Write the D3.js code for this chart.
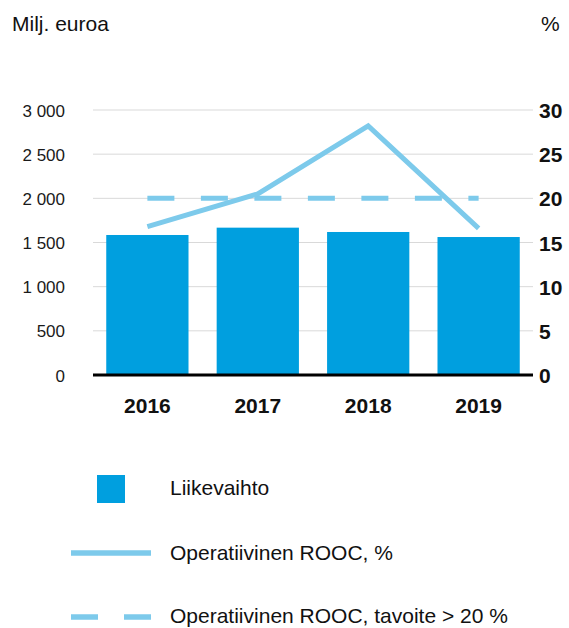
<!DOCTYPE html>
<html>
<head>
<meta charset="utf-8">
<script src="https://cdn.jsdelivr.net/npm/d3@7"></script>
<style>
  html, body { margin: 0; padding: 0; background: #fff; }
  svg { display: block; font-family: "Liberation Sans", Arial, sans-serif; }
</style>
</head>
<body>
<svg id="chart" width="569" height="628"></svg>
<script>
const years = ["2016", "2017", "2018", "2019"];
const revenue = [1585, 1668, 1619, 1562];
const rooc = [16.8, 20.5, 28.2, 16.6];
const target = [20, 20, 20, 20];
const leftTicks = [0, 500, 1000, 1500, 2000, 2500, 3000];
const rightTicks = [0, 5, 10, 15, 20, 25, 30];
const legendLabels = ["Liikevaihto", "Operatiivinen ROOC, %", "Operatiivinen ROOC, tavoite > 20 %"];

const barColor = "#009fdf";
const lineColor = "#7dcaeb";

const svg = d3.select("#chart");
const plotL = 93, plotR = 533, plotT = 110, plotB = 375;

const x = d3.scaleBand().domain(years).range([plotL, plotR]).paddingInner(0.255).paddingOuter(0.12);
const yL = d3.scaleLinear().domain([0, 3000]).range([plotB, plotT]);
const yR = d3.scaleLinear().domain([0, 30]).range([plotB, plotT]);

const loc = d3.formatLocale({decimal: ",", thousands: "\u00a0", grouping: [3], currency: ["", "€"]});
const fmt = loc.format(",d");

// gridlines
svg.append("g").selectAll("line").data(leftTicks.filter(d => d > 0)).join("line")
  .attr("x1", plotL).attr("x2", plotR)
  .attr("y1", d => yL(d)).attr("y2", d => yL(d))
  .attr("stroke", "#d9d9d9").attr("stroke-width", 1);

// left axis
const leftAxis = d3.axisLeft(yL).tickValues(leftTicks).tickFormat(fmt).tickSize(0).tickPadding(0);
const gL = svg.append("g").attr("transform", "translate(65,0)").call(leftAxis);
gL.select(".domain").remove();
gL.selectAll("text").attr("font-size", 17).attr("fill", "#1a1a1a")
  .attr("font-family", "Liberation Sans, Arial, sans-serif").attr("dy", "0.36em");

// right axis
const rightAxis = d3.axisRight(yR).tickValues(rightTicks).tickSize(0).tickPadding(0);
const gR = svg.append("g").attr("transform", "translate(539,0)").call(rightAxis);
gR.select(".domain").remove();
gR.selectAll("text").attr("font-size", 21).attr("font-weight", "bold").attr("fill", "#111")
  .attr("font-family", "Liberation Sans, Arial, sans-serif").attr("dy", "0.36em");

// bars
svg.append("g").selectAll("rect").data(years).join("rect")
  .attr("x", d => x(d)).attr("width", x.bandwidth())
  .attr("y", (d, i) => yL(revenue[i]))
  .attr("height", (d, i) => yL(0) - yL(revenue[i]))
  .attr("fill", barColor);

// baseline
svg.append("line").attr("x1", plotL).attr("x2", plotR)
  .attr("y1", yL(0)).attr("y2", yL(0))
  .attr("stroke", "#000").attr("stroke-width", 3);

// x axis labels
const bottomAxis = d3.axisBottom(x).tickSize(0).tickPadding(0);
const gB = svg.append("g").attr("transform", "translate(0,397)").call(bottomAxis);
gB.select(".domain").remove();
gB.selectAll("text").attr("font-size", 21).attr("font-weight", "bold").attr("fill", "#111")
  .attr("font-family", "Liberation Sans, Arial, sans-serif").attr("dy", "0.76em");

const cx = d => x(d) + x.bandwidth() / 2;

// target dashed line
const lineT = d3.line().x((d, i) => cx(years[i])).y(d => yR(d));
svg.append("path").datum(target).attr("d", lineT)
  .attr("fill", "none").attr("stroke", lineColor).attr("stroke-width", 5)
  .attr("stroke-dasharray", "27,26.5");

// rooc line
svg.append("path").datum(rooc).attr("d", lineT)
  .attr("fill", "none").attr("stroke", lineColor).attr("stroke-width", 5)
  .attr("stroke-linejoin", "miter");

// top labels
svg.append("text").attr("x", 12).attr("y", 31).attr("font-size", 21).attr("fill", "#111").text("Milj. euroa");
svg.append("text").attr("x", 541).attr("y", 31).attr("font-size", 21).attr("fill", "#111").text("%");

// legend
const lg = svg.append("g");
lg.append("rect").attr("x", 97).attr("y", 475).attr("width", 28).attr("height", 28).attr("fill", barColor);
lg.append("line").attr("x1", 71).attr("x2", 151).attr("y1", 553).attr("y2", 553)
  .attr("stroke", lineColor).attr("stroke-width", 5.5);
lg.append("line").attr("x1", 71).attr("x2", 151).attr("y1", 617).attr("y2", 617)
  .attr("stroke", lineColor).attr("stroke-width", 5.5).attr("stroke-dasharray", "27,26");
const ly = [495, 560, 623];
lg.selectAll("text").data(legendLabels).join("text")
  .attr("x", 170).attr("y", (d, i) => ly[i]).attr("font-size", 21).attr("fill", "#111")
  .text(d => d);
</script>
</body>
</html>
